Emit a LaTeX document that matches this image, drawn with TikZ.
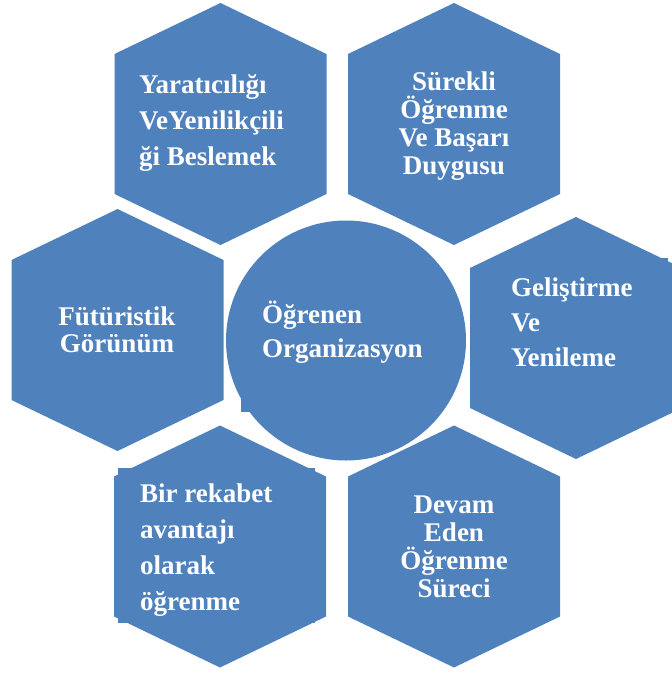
\documentclass[tikz,border=0pt]{standalone}
\usepackage{fontspec}
\setmainfont{Liberation Serif}
\definecolor{hexblue}{HTML}{4F81BD}
% hexagon with pointed top and bottom, centred at (#1,#2)
\newcommand\hexcell[2]{%
  \fill[hexblue] (#1,#2) ++(0,-121) -- ++(106,51) -- ++(0,140) -- ++(-106,51)
    -- ++(-106,-51) -- ++(0,-140) -- cycle;}
\begin{document}
\begin{tikzpicture}[x=1pt,y=-1pt,
  lbl/.style={text=white,inner sep=0pt,font=\bfseries\fontsize{27}{#1}\selectfont},
  lbl/.default=28]
\useasboundingbox (0,0) rectangle (672,673);
\begin{scope}
\clip (0,0) rectangle (672,673);
\hexcell{220.5}{124}
\hexcell{454}{124}
\hexcell{117.5}{330}
\hexcell{576}{338}
\hexcell{220}{546.5}
\hexcell{454}{546.5}
% text-frame corners showing behind some cells
\fill[hexblue] (118,468) rectangle (315,623);
\fill[hexblue] (500,258) rectangle (668,300);
\fill[hexblue] (241,412) rectangle (300,380);
\fill[hexblue] (346,340.5) circle (120);
\end{scope}
% each label is placed by the baseline of its last line
\node[lbl=36,anchor=base west,align=left] (t1) at (139,165) {Yaratıcılığı\\VeYenilikçili\\ği Beslemek};
\node[lbl=28,anchor=base,align=center] (t2) at (454,174) {Sürekli\\Öğrenme\\Ve Başarı\\Duygusu};
\node[lbl=27,anchor=base,align=center] (t3) at (117,352) {Fütüristik\\Görünüm};
\node[lbl=34,anchor=base west,align=left] (tc) at (262,357) {Öğrenen\\Organizasyon};
\node[lbl=35,anchor=base west,align=left] (t4) at (511,366) {Geliştirme\\Ve\\Yenileme};
\node[lbl=35.7,anchor=base west,align=left] (t5) at (140,610) {Bir rekabet\\avantajı\\olarak\\öğrenme};
\node[lbl=28,anchor=base,align=center] (t6) at (454,597) {Devam\\Eden\\Öğrenme\\Süreci};
\end{tikzpicture}
\end{document}
